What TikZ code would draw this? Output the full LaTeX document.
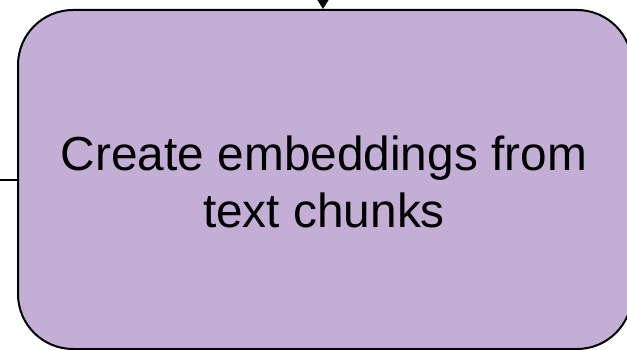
\documentclass[tikz,border=0pt]{standalone}
\usepackage{fontspec}
\setmainfont{Liberation Sans}
\usetikzlibrary{arrows.meta,calc}
\definecolor{boxfill}{RGB}{195,174,214}
\tikzset{
  stepbox/.style={draw=black, line width=2pt, fill=boxfill, rounded corners=55pt,
    minimum width=614pt, minimum height=339pt, inner sep=0pt, align=center,
    font=\fontsize{47.8}{57}\selectfont},
  conn/.style={draw=black, line width=2pt},
  arr/.style={conn, -{Triangle[width=12pt,length=10pt]}}
}
\begin{document}
\begin{tikzpicture}[x=1pt,y=-1pt]
\useasboundingbox (0,0) rectangle (627,350);
\node[stepbox] (box) at (325,179.5) {};
\node[align=center, font=\fontsize{47.8}{57}\selectfont, inner sep=0pt] (txt) at (324,182) {Create embeddings from\\text chunks};
\coordinate (top) at (323,-2);
\coordinate (left) at (-2,180);
\draw[arr] (top) -- (box.north -| top);
\draw[conn] (left) -- (box.west |- left);
\end{tikzpicture}
\end{document}
